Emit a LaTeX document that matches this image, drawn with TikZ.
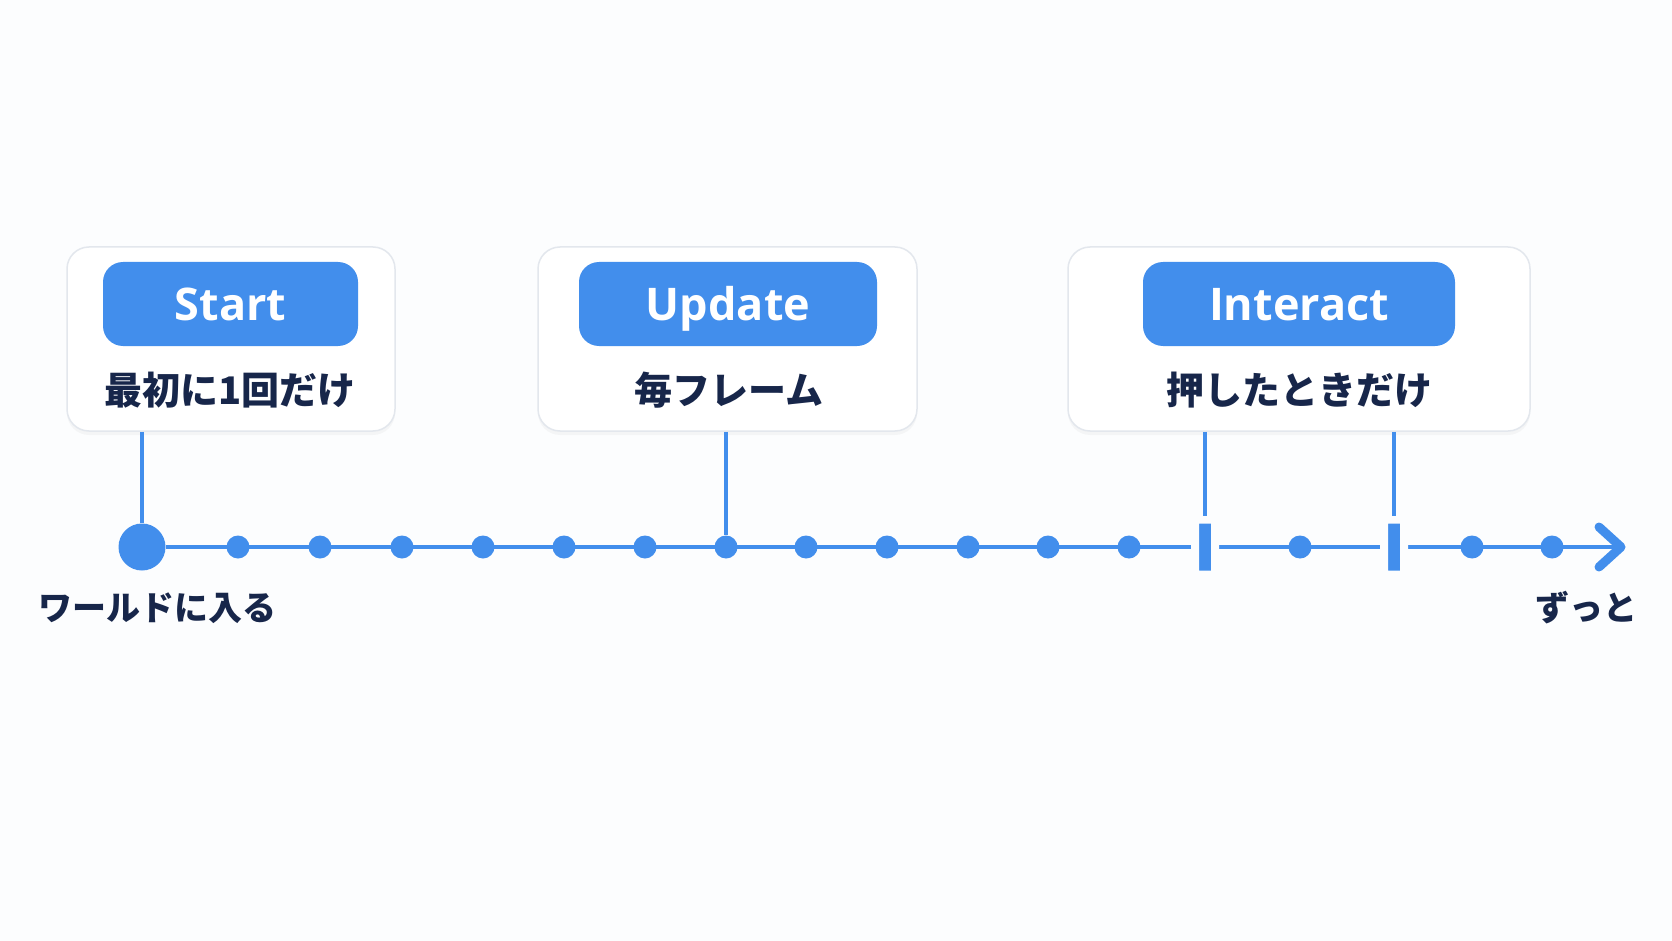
\documentclass[tikz,border=0pt]{standalone}
\usepackage{fontspec}
\newfontfamily\jpfont{Noto Sans CJK JP}
\newfontfamily\enfont{Open Sans}
\usetikzlibrary{shadows,positioning,calc}
\definecolor{LineClr}{HTML}{428EEC}
\definecolor{TextClr}{HTML}{17264A}
\definecolor{CardClr}{HTML}{E3E7ED}
\definecolor{BackClr}{HTML}{FCFDFE}

\begin{document}
\begin{tikzpicture}[x=1pt,y=-1pt,
  card/.style={draw=CardClr,line width=1.5pt,fill=white,rounded corners=22pt,minimum height=184pt,
    drop shadow={shadow xshift=0pt,shadow yshift=-4pt,opacity=0.06}},
  tag/.style={fill=LineClr,rounded corners=20pt,minimum height=84pt,text=white,
    text height=33pt,text depth=0pt,font=\enfont\bfseries\fontsize{45}{48}\selectfont},
  caption/.style={text=TextClr,font=\jpfont\bfseries\fontsize{38}{40}\selectfont},
  axislbl/.style={text=TextClr,font=\jpfont\bfseries\fontsize{34}{36}\selectfont},
  dot/.style={circle,fill=LineClr,inner sep=0pt,minimum size=23pt},
  pressmark/.style={fill=LineClr,draw=BackClr,line width=8pt,inner sep=0pt,rounded corners=2pt,
    minimum width=20pt,minimum height=55pt},
  conn/.style={draw=LineClr,line width=3.5pt}]

\useasboundingbox[fill=BackClr] (0,0) rectangle (1672,941);

% The three cards with their event name and when it runs.
\node[card,minimum width=328pt] (startcard) at (231,339) {};
\node[tag,minimum width=255pt] (starttag) at (230.5,304) {Start};
\node[caption] (startcap) at (230,390) {最初に1回だけ};

\node[card,minimum width=379pt] (updatecard) at (727.5,339) {};
\node[tag,minimum width=298pt] (updatetag) at (728,304) {Update};
\node[caption] (updatecap) at (729,390) {毎フレーム};

\node[card,minimum width=462pt] (interactcard) at (1299,339) {};
\node[tag,minimum width=312pt] (interacttag) at (1299,304) {Interact};
\node[caption] (interactcap) at (1299,390) {押したときだけ};

% Time line.
\node[dot,minimum size=47pt] (d0) at (142,547) {};
\coordinate (tip) at (1621,547);
\draw[LineClr,line width=4.5pt] (d0) -- (tip);
\draw[LineClr,line width=9pt,line cap=round,line join=round]
  ($(tip)+(-22,-20)$) -- (tip) -- ($(tip)+(-22,20)$);

\foreach \x [count=\i] in {238,320,402,483,564,645,726,806,887,968,1048,1129,1300,1472,1552}
  \node[dot] (d\i) at (\x,547) {};

\node[pressmark] (p1) at (1205,547) {};
\node[pressmark] (p2) at (1394,547) {};

% Card to time line.
\draw[conn] (startcard.south -| d0) -- (d0.north);
\draw[conn] (updatecard.south -| d7) -- (d7.north);
\draw[conn] (interactcard.south -| p1) -- (p1.north);
\draw[conn] (interactcard.south -| p2) -- (p2.north);

\node[axislbl,anchor=west] (enter) at (35,608) {ワールドに入る};
\node[axislbl,anchor=east] (always) at (1641,608) {ずっと};

\end{tikzpicture}
\end{document}
